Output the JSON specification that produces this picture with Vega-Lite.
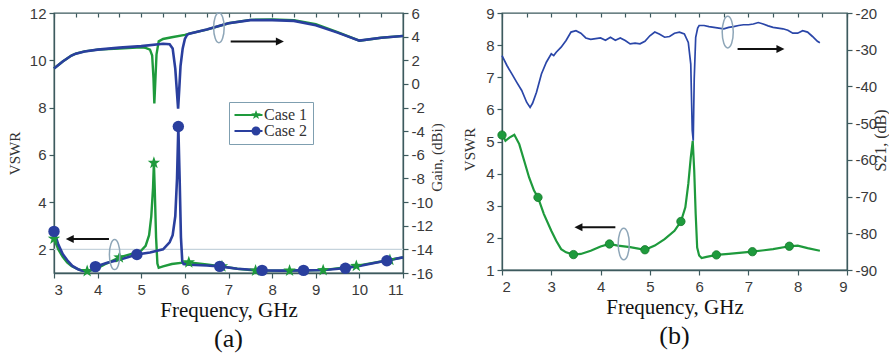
{
  "$schema": "https://vega.github.io/schema/vega-lite/v6.json",
  "padding": {"left": 6, "top": 5, "right": 0, "bottom": 0},
  "background": "white",
  "datasets": {
    "aGain": [
      {"case": "Case 1", "f": 3.0, "g": 1.3}, {"case": "Case 1", "f": 3.2, "g": 1.9}, {"case": "Case 1", "f": 3.4, "g": 2.4}, {"case": "Case 1", "f": 3.5, "g": 2.56}, {"case": "Case 1", "f": 3.7, "g": 2.75}, {"case": "Case 1", "f": 4.0, "g": 2.9}, {"case": "Case 1", "f": 4.5, "g": 3.0}, {"case": "Case 1", "f": 5.0, "g": 3.1}, {"case": "Case 1", "f": 5.1, "g": 3.05}, {"case": "Case 1", "f": 5.2, "g": 2.9}, {"case": "Case 1", "f": 5.25, "g": 2.4}, {"case": "Case 1", "f": 5.28, "g": 0.5}, {"case": "Case 1", "f": 5.3, "g": -1.65}, {"case": "Case 1", "f": 5.32, "g": 0.0}, {"case": "Case 1", "f": 5.35, "g": 2.5}, {"case": "Case 1", "f": 5.4, "g": 3.6}, {"case": "Case 1", "f": 5.5, "g": 3.8}, {"case": "Case 1", "f": 5.7, "g": 3.95}, {"case": "Case 1", "f": 6.0, "g": 4.15}, {"case": "Case 1", "f": 6.1, "g": 4.25}, {"case": "Case 1", "f": 6.5, "g": 4.6}, {"case": "Case 1", "f": 7.0, "g": 5.13}, {"case": "Case 1", "f": 7.5, "g": 5.42}, {"case": "Case 1", "f": 8.0, "g": 5.45}, {"case": "Case 1", "f": 8.5, "g": 5.4}, {"case": "Case 1", "f": 9.0, "g": 5.05}, {"case": "Case 1", "f": 9.5, "g": 4.38}, {"case": "Case 1", "f": 10.0, "g": 3.66}, {"case": "Case 1", "f": 10.5, "g": 3.9}, {"case": "Case 1", "f": 11.0, "g": 4.06},
      {"case": "Case 2", "f": 3.0, "g": 1.3}, {"case": "Case 2", "f": 3.2, "g": 1.9}, {"case": "Case 2", "f": 3.4, "g": 2.4}, {"case": "Case 2", "f": 3.5, "g": 2.56}, {"case": "Case 2", "f": 3.7, "g": 2.75}, {"case": "Case 2", "f": 4.0, "g": 2.9}, {"case": "Case 2", "f": 4.5, "g": 3.07}, {"case": "Case 2", "f": 5.0, "g": 3.2}, {"case": "Case 2", "f": 5.5, "g": 3.4}, {"case": "Case 2", "f": 5.65, "g": 3.35}, {"case": "Case 2", "f": 5.72, "g": 3.0}, {"case": "Case 2", "f": 5.78, "g": 1.3}, {"case": "Case 2", "f": 5.82, "g": -0.8}, {"case": "Case 2", "f": 5.845, "g": -2.1}, {"case": "Case 2", "f": 5.87, "g": -0.5}, {"case": "Case 2", "f": 5.9, "g": 1.5}, {"case": "Case 2", "f": 5.95, "g": 3.0}, {"case": "Case 2", "f": 6.0, "g": 3.8}, {"case": "Case 2", "f": 6.05, "g": 4.15}, {"case": "Case 2", "f": 6.1, "g": 4.25}, {"case": "Case 2", "f": 6.5, "g": 4.6}, {"case": "Case 2", "f": 7.0, "g": 5.13}, {"case": "Case 2", "f": 7.5, "g": 5.4}, {"case": "Case 2", "f": 8.0, "g": 5.4}, {"case": "Case 2", "f": 8.5, "g": 5.33}, {"case": "Case 2", "f": 9.0, "g": 4.96}, {"case": "Case 2", "f": 9.5, "g": 4.34}, {"case": "Case 2", "f": 10.0, "g": 3.66}, {"case": "Case 2", "f": 10.5, "g": 3.9}, {"case": "Case 2", "f": 11.0, "g": 4.06}
    ],
    "aVswr": [
      {"case": "Case 1", "f": 3.0, "v": 2.45}, {"case": "Case 1", "f": 3.1, "v": 2.0}, {"case": "Case 1", "f": 3.2, "v": 1.68}, {"case": "Case 1", "f": 3.3, "v": 1.45}, {"case": "Case 1", "f": 3.4, "v": 1.3}, {"case": "Case 1", "f": 3.5, "v": 1.2}, {"case": "Case 1", "f": 3.6, "v": 1.12}, {"case": "Case 1", "f": 3.76, "v": 1.08}, {"case": "Case 1", "f": 3.9, "v": 1.12}, {"case": "Case 1", "f": 4.0, "v": 1.2}, {"case": "Case 1", "f": 4.2, "v": 1.4}, {"case": "Case 1", "f": 4.5, "v": 1.66}, {"case": "Case 1", "f": 4.8, "v": 1.82}, {"case": "Case 1", "f": 5.0, "v": 1.95}, {"case": "Case 1", "f": 5.1, "v": 2.15}, {"case": "Case 1", "f": 5.18, "v": 2.6}, {"case": "Case 1", "f": 5.23, "v": 3.4}, {"case": "Case 1", "f": 5.27, "v": 4.6}, {"case": "Case 1", "f": 5.29, "v": 5.66}, {"case": "Case 1", "f": 5.31, "v": 4.5}, {"case": "Case 1", "f": 5.34, "v": 2.5}, {"case": "Case 1", "f": 5.37, "v": 1.4}, {"case": "Case 1", "f": 5.4, "v": 1.22}, {"case": "Case 1", "f": 5.5, "v": 1.28}, {"case": "Case 1", "f": 5.7, "v": 1.38}, {"case": "Case 1", "f": 6.0, "v": 1.45}, {"case": "Case 1", "f": 6.1, "v": 1.45}, {"case": "Case 1", "f": 6.5, "v": 1.36}, {"case": "Case 1", "f": 6.85, "v": 1.28}, {"case": "Case 1", "f": 7.2, "v": 1.18}, {"case": "Case 1", "f": 7.62, "v": 1.1}, {"case": "Case 1", "f": 8.4, "v": 1.1}, {"case": "Case 1", "f": 9.17, "v": 1.12}, {"case": "Case 1", "f": 9.93, "v": 1.3}, {"case": "Case 1", "f": 10.6, "v": 1.52}, {"case": "Case 1", "f": 11.0, "v": 1.66},
      {"case": "Case 2", "f": 3.0, "v": 2.76}, {"case": "Case 2", "f": 3.1, "v": 2.2}, {"case": "Case 2", "f": 3.2, "v": 1.8}, {"case": "Case 2", "f": 3.3, "v": 1.55}, {"case": "Case 2", "f": 3.42, "v": 1.3}, {"case": "Case 2", "f": 3.55, "v": 1.16}, {"case": "Case 2", "f": 3.65, "v": 1.1}, {"case": "Case 2", "f": 3.78, "v": 1.08}, {"case": "Case 2", "f": 3.9, "v": 1.18}, {"case": "Case 2", "f": 4.0, "v": 1.3}, {"case": "Case 2", "f": 4.2, "v": 1.42}, {"case": "Case 2", "f": 4.5, "v": 1.56}, {"case": "Case 2", "f": 4.9, "v": 1.78}, {"case": "Case 2", "f": 5.2, "v": 1.87}, {"case": "Case 2", "f": 5.5, "v": 2.0}, {"case": "Case 2", "f": 5.65, "v": 2.3}, {"case": "Case 2", "f": 5.72, "v": 2.6}, {"case": "Case 2", "f": 5.78, "v": 3.4}, {"case": "Case 2", "f": 5.82, "v": 5.0}, {"case": "Case 2", "f": 5.85, "v": 7.2}, {"case": "Case 2", "f": 5.88, "v": 5.0}, {"case": "Case 2", "f": 5.91, "v": 2.5}, {"case": "Case 2", "f": 5.94, "v": 1.5}, {"case": "Case 2", "f": 5.97, "v": 1.38}, {"case": "Case 2", "f": 6.1, "v": 1.35}, {"case": "Case 2", "f": 6.5, "v": 1.32}, {"case": "Case 2", "f": 6.8, "v": 1.28}, {"case": "Case 2", "f": 7.2, "v": 1.18}, {"case": "Case 2", "f": 7.8, "v": 1.11}, {"case": "Case 2", "f": 8.2, "v": 1.1}, {"case": "Case 2", "f": 8.7, "v": 1.11}, {"case": "Case 2", "f": 9.2, "v": 1.13}, {"case": "Case 2", "f": 9.65, "v": 1.2}, {"case": "Case 2", "f": 10.0, "v": 1.3}, {"case": "Case 2", "f": 10.6, "v": 1.52}, {"case": "Case 2", "f": 11.0, "v": 1.66}
    ],
    "aMarks": [
      {"case": "Case 1", "f": 3.0, "v": 2.45}, {"case": "Case 1", "f": 3.76, "v": 1.08}, {"case": "Case 1", "f": 4.5, "v": 1.66}, {"case": "Case 1", "f": 5.29, "v": 5.66}, {"case": "Case 1", "f": 6.09, "v": 1.45}, {"case": "Case 1", "f": 6.85, "v": 1.28}, {"case": "Case 1", "f": 7.62, "v": 1.1}, {"case": "Case 1", "f": 8.4, "v": 1.1}, {"case": "Case 1", "f": 9.17, "v": 1.12}, {"case": "Case 1", "f": 9.93, "v": 1.3}, {"case": "Case 1", "f": 10.7, "v": 1.55},
      {"case": "Case 2", "f": 3.0, "v": 2.76}, {"case": "Case 2", "f": 3.95, "v": 1.27}, {"case": "Case 2", "f": 4.9, "v": 1.78}, {"case": "Case 2", "f": 5.85, "v": 7.2}, {"case": "Case 2", "f": 6.8, "v": 1.28}, {"case": "Case 2", "f": 7.77, "v": 1.11}, {"case": "Case 2", "f": 8.72, "v": 1.11}, {"case": "Case 2", "f": 9.68, "v": 1.2}, {"case": "Case 2", "f": 10.63, "v": 1.52}
    ],
    "bS21": [
      {"f": 2.0, "s": -31.6}, {"f": 2.1, "s": -34.3}, {"f": 2.2, "s": -36.6}, {"f": 2.3, "s": -38.9}, {"f": 2.4, "s": -41.1}, {"f": 2.5, "s": -44.3}, {"f": 2.57, "s": -45.7}, {"f": 2.62, "s": -44.6}, {"f": 2.7, "s": -41.6}, {"f": 2.8, "s": -36.6}, {"f": 2.9, "s": -33.4}, {"f": 3.0, "s": -31.1}, {"f": 3.05, "s": -31.6}, {"f": 3.1, "s": -30.7}, {"f": 3.2, "s": -29.3}, {"f": 3.3, "s": -27.5}, {"f": 3.4, "s": -25.2}, {"f": 3.5, "s": -24.8}, {"f": 3.6, "s": -25.5}, {"f": 3.7, "s": -26.8}, {"f": 3.8, "s": -27.2}, {"f": 3.9, "s": -27.0}, {"f": 4.0, "s": -26.8}, {"f": 4.1, "s": -27.4}, {"f": 4.2, "s": -26.6}, {"f": 4.3, "s": -27.4}, {"f": 4.4, "s": -26.8}, {"f": 4.5, "s": -27.5}, {"f": 4.6, "s": -28.4}, {"f": 4.7, "s": -28.2}, {"f": 4.8, "s": -28.4}, {"f": 4.9, "s": -27.7}, {"f": 5.0, "s": -26.2}, {"f": 5.1, "s": -25.2}, {"f": 5.2, "s": -25.8}, {"f": 5.3, "s": -26.6}, {"f": 5.4, "s": -26.4}, {"f": 5.5, "s": -25.5}, {"f": 5.6, "s": -25.2}, {"f": 5.7, "s": -25.7}, {"f": 5.78, "s": -28.0}, {"f": 5.83, "s": -33.9}, {"f": 5.86, "s": -52.0}, {"f": 5.88, "s": -54.8}, {"f": 5.9, "s": -38.0}, {"f": 5.93, "s": -26.6}, {"f": 5.97, "s": -24.1}, {"f": 6.0, "s": -23.4}, {"f": 6.1, "s": -23.4}, {"f": 6.2, "s": -23.7}, {"f": 6.3, "s": -23.9}, {"f": 6.4, "s": -24.1}, {"f": 6.5, "s": -24.3}, {"f": 6.6, "s": -23.9}, {"f": 6.7, "s": -23.7}, {"f": 6.8, "s": -23.4}, {"f": 6.9, "s": -23.2}, {"f": 7.0, "s": -23.2}, {"f": 7.1, "s": -23.0}, {"f": 7.2, "s": -22.6}, {"f": 7.3, "s": -23.0}, {"f": 7.4, "s": -23.5}, {"f": 7.5, "s": -23.9}, {"f": 7.6, "s": -24.1}, {"f": 7.7, "s": -24.3}, {"f": 7.8, "s": -24.7}, {"f": 7.9, "s": -25.5}, {"f": 8.0, "s": -25.5}, {"f": 8.1, "s": -24.8}, {"f": 8.2, "s": -25.2}, {"f": 8.3, "s": -26.4}, {"f": 8.4, "s": -27.7}, {"f": 8.45, "s": -28.1}
    ],
    "bVswr": [
      {"f": 2.0, "v": 5.23}, {"f": 2.07, "v": 5.02}, {"f": 2.15, "v": 5.12}, {"f": 2.25, "v": 5.21}, {"f": 2.35, "v": 4.92}, {"f": 2.45, "v": 4.4}, {"f": 2.55, "v": 3.88}, {"f": 2.65, "v": 3.47}, {"f": 2.73, "v": 3.26}, {"f": 2.85, "v": 2.74}, {"f": 3.0, "v": 2.22}, {"f": 3.1, "v": 1.91}, {"f": 3.2, "v": 1.65}, {"f": 3.3, "v": 1.55}, {"f": 3.45, "v": 1.48}, {"f": 3.6, "v": 1.5}, {"f": 3.8, "v": 1.6}, {"f": 4.0, "v": 1.73}, {"f": 4.18, "v": 1.81}, {"f": 4.35, "v": 1.76}, {"f": 4.6, "v": 1.71}, {"f": 4.9, "v": 1.63}, {"f": 5.1, "v": 1.76}, {"f": 5.3, "v": 1.96}, {"f": 5.5, "v": 2.22}, {"f": 5.63, "v": 2.51}, {"f": 5.72, "v": 2.95}, {"f": 5.78, "v": 3.68}, {"f": 5.83, "v": 4.5}, {"f": 5.87, "v": 5.02}, {"f": 5.9, "v": 4.1}, {"f": 5.93, "v": 2.74}, {"f": 5.96, "v": 1.7}, {"f": 6.0, "v": 1.45}, {"f": 6.05, "v": 1.37}, {"f": 6.15, "v": 1.41}, {"f": 6.35, "v": 1.47}, {"f": 6.6, "v": 1.5}, {"f": 7.08, "v": 1.57}, {"f": 7.5, "v": 1.65}, {"f": 7.83, "v": 1.74}, {"f": 8.0, "v": 1.76}, {"f": 8.2, "v": 1.68}, {"f": 8.45, "v": 1.6}
    ],
    "bMarks": [
      {"f": 2.0, "v": 5.2}, {"f": 2.73, "v": 3.26}, {"f": 3.45, "v": 1.48}, {"f": 4.18, "v": 1.81}, {"f": 4.9, "v": 1.63}, {"f": 5.63, "v": 2.51}, {"f": 6.35, "v": 1.47}, {"f": 7.08, "v": 1.57}, {"f": 7.83, "v": 1.74}
    ]
  },
  "hconcat": [
    {
      "width": 349,
      "height": 260,
      "title": {"text": "(a)", "orient": "bottom", "anchor": "middle", "frame": "group", "font": "Liberation Serif", "fontSize": 26, "fontWeight": "normal", "color": "#111", "offset": 6},
      "layer": [
        {
          "encoding": {
            "x": {"field": "f", "type": "quantitative", "scale": {"domain": [3, 11], "nice": false},
                  "axis": {"values": [3, 4, 5, 6, 7, 8, 9, 10, 11], "title": "Frequency, GHz", "titleFontSize": 21, "titleColor": "#111", "titlePadding": 2, "labelPadding": 4}},
            "y": {"field": "v", "type": "quantitative", "scale": {"domain": [1, 12], "nice": false},
                  "axis": {"orient": "left", "values": [2, 4, 6, 8, 10, 12], "title": "VSWR", "titleFontSize": 15, "titleAngle": 270, "titleX": -40, "titleY": 140, "titleAlign": "center", "titleBaseline": "middle"}}
          },
          "layer": [
            {
              "data": {"values": [{"f": 3, "v": 2}, {"f": 11, "v": 2}]},
              "mark": {"type": "line", "color": "#c5d3dc", "strokeWidth": 1.2},
              "encoding": {}
            },
            {
              "data": {"name": "aVswr"},
              "transform": [{"filter": "datum.case === 'Case 1'"}],
              "mark": {"type": "line", "color": "#1e9a3c", "strokeWidth": 2.4},
              "encoding": {}
            },
            {
              "data": {"name": "aVswr"},
              "transform": [{"filter": "datum.case === 'Case 2'"}],
              "mark": {"type": "line", "color": "#2a3f9e", "strokeWidth": 2.6},
              "encoding": {}
            },
            {
              "data": {"name": "aMarks"},
              "transform": [{"filter": "datum.case === 'Case 1'"}],
              "mark": {"type": "point", "filled": true, "opacity": 1, "size": 170, "color": "#1e9a3c", "shape": "M0,-1L0.235,-0.324L0.951,-0.309L0.38,0.124L0.588,0.809L0,0.4L-0.588,0.809L-0.38,0.124L-0.951,-0.309L-0.235,-0.324Z"},
              "encoding": {}
            },
            {
              "data": {"name": "aMarks"},
              "transform": [{"filter": "datum.case === 'Case 2'"}],
              "mark": {"type": "point", "filled": true, "opacity": 1, "size": 130, "color": "#2a3f9e", "shape": "circle"},
              "encoding": {}
            },
            {
              "data": {"name": "aMarks"},
              "mark": {"type": "point", "filled": true, "opacity": 1, "size": 0},
              "encoding": {
                "color": {"field": "case", "type": "nominal", "scale": {"domain": ["Case 1", "Case 2"], "range": ["#1e9a3c", "#2a3f9e"]},
                          "legend": {"title": null, "orient": "none", "legendX": 175, "legendY": 89, "labelFont": "Liberation Serif", "labelFontSize": 16, "labelColor": "#333", "labelOffset": 14, "strokeColor": "#7f9fb0", "fillColor": "white", "padding": 5, "rowPadding": 0, "symbolSize": 225, "symbolOpacity": 1, "symbolStrokeWidth": 0}},
                "shape": {"field": "case", "type": "nominal", "scale": {"domain": ["Case 1", "Case 2"], "range": ["M-1,-0.13L2.73,-0.13L2.73,0.13L-1,0.13ZM1.87,-0.67L2.029,-0.218L2.507,-0.207L2.127,0.083L2.264,0.542L1.87,0.27L1.476,0.542L1.613,0.083L1.233,-0.207L1.711,-0.218Z", "M-1,-0.13L2.73,-0.13L2.73,0.13L-1,0.13ZM2.47,0A0.6,0.6 0 1,1 1.27,0A0.6,0.6 0 1,1 2.47,0Z"]}}
              }
            },
            {
              "data": {"values": [{"f": 4.39, "v": 1.78}]},
              "mark": {"type": "point", "filled": false, "shape": "M0,-1A0.35,1 0 1,1 0,1A0.35,1 0 1,1 0,-1Z", "size": 900, "stroke": "#8ea6b8", "strokeWidth": 1.5, "opacity": 1},
              "encoding": {}
            },
            {
              "data": {"values": [{"f": 4.26, "f2": 3.4, "v": 2.44}]},
              "mark": {"type": "rule", "color": "#111", "strokeWidth": 2},
              "encoding": {"x2": {"field": "f2"}}
            },
            {
              "data": {"values": [{"f": 3.27, "v": 2.44}]},
              "mark": {"type": "point", "filled": true, "shape": "M0,0L1,-0.5L1,0.5Z", "size": 256, "color": "#111", "opacity": 1},
              "encoding": {}
            }
          ]
        },
        {
          "encoding": {
            "x": {"field": "f", "type": "quantitative", "scale": {"domain": [3, 11], "nice": false},
                  "axis": {"orient": "top", "values": [3, 3.5, 4, 4.5, 5, 5.5, 6, 6.5, 7, 7.5, 8, 8.5, 9, 9.5, 10, 10.5, 11], "labels": false, "domain": false, "tickSize": -4, "title": null}},
            "y": {"field": "g", "type": "quantitative", "scale": {"domain": [-16, 6], "nice": false},
                  "axis": {"orient": "right", "values": [-16, -14, -12, -10, -8, -6, -4, -2, 0, 2, 4, 6], "labelExpr": "'' + datum.value", "title": "Gain, (dBi)", "titleFontSize": 15, "titleAngle": 270, "titleX": 33, "titleY": 144, "titleAlign": "center", "titleBaseline": "middle"}}
          },
          "layer": [
            {
              "data": {"name": "aGain"},
              "transform": [{"filter": "datum.case === 'Case 1'"}],
              "mark": {"type": "line", "color": "#1e9a3c", "strokeWidth": 2.4},
              "encoding": {}
            },
            {
              "data": {"name": "aGain"},
              "transform": [{"filter": "datum.case === 'Case 2'"}],
              "mark": {"type": "line", "color": "#2a3f9e", "strokeWidth": 2.6},
              "encoding": {}
            },
            {
              "data": {"values": [{"f": 6.78, "g": 4.76}]},
              "mark": {"type": "point", "filled": false, "shape": "M0,-1A0.35,1 0 1,1 0,1A0.35,1 0 1,1 0,-1Z", "size": 900, "stroke": "#8ea6b8", "strokeWidth": 1.5, "opacity": 1},
              "encoding": {}
            },
            {
              "data": {"values": [{"f": 7.05, "f2": 8.12, "g": 3.58}]},
              "mark": {"type": "rule", "color": "#111", "strokeWidth": 2},
              "encoding": {"x2": {"field": "f2"}}
            },
            {
              "data": {"values": [{"f": 8.27, "g": 3.58}]},
              "mark": {"type": "point", "filled": true, "shape": "M0,0L-1,-0.5L-1,0.5Z", "size": 256, "color": "#111", "opacity": 1},
              "encoding": {}
            }
          ]
        }
      ],
      "resolve": {"scale": {"y": "independent"}, "axis": {"x": "independent"}}
    },
    {
      "width": 345,
      "height": 257,
      "title": {"text": "(b)", "orient": "bottom", "anchor": "middle", "frame": "group", "font": "Liberation Serif", "fontSize": 26, "fontWeight": "normal", "color": "#111", "offset": 6},
      "layer": [
        {
          "encoding": {
            "x": {"field": "f", "type": "quantitative", "scale": {"domain": [2, 9], "nice": false},
                  "axis": {"values": [2, 3, 4, 5, 6, 7, 8, 9], "title": "Frequency, GHz", "titleFontSize": 21, "titleColor": "#111", "titlePadding": 2, "labelPadding": 4}},
            "y": {"field": "v", "type": "quantitative", "scale": {"domain": [1, 9], "nice": false},
                  "axis": {"orient": "left", "values": [1, 2, 3, 4, 5, 6, 7, 8, 9], "title": "VSWR", "titleFontSize": 15, "titleAngle": 270, "titleX": -33, "titleY": 136, "titleAlign": "center", "titleBaseline": "middle"}}
          },
          "layer": [
            {
              "data": {"name": "bVswr"},
              "mark": {"type": "line", "color": "#1e9a3c", "strokeWidth": 2.2},
              "encoding": {}
            },
            {
              "data": {"name": "bMarks"},
              "mark": {"type": "point", "filled": true, "shape": "circle", "size": 70, "color": "#1e9a3c", "opacity": 1, "stroke": "#157a2c", "strokeWidth": 0.8},
              "encoding": {}
            },
            {
              "data": {"values": [{"f": 4.47, "v": 1.81}]},
              "mark": {"type": "point", "filled": false, "shape": "M0,-1A0.35,1 0 1,1 0,1A0.35,1 0 1,1 0,-1Z", "size": 1000, "stroke": "#8ea6b8", "strokeWidth": 1.5, "opacity": 1},
              "encoding": {}
            },
            {
              "data": {"values": [{"f": 4.3, "f2": 3.58, "v": 2.33}]},
              "mark": {"type": "rule", "color": "#111", "strokeWidth": 2},
              "encoding": {"x2": {"field": "f2"}}
            },
            {
              "data": {"values": [{"f": 3.47, "v": 2.33}]},
              "mark": {"type": "point", "filled": true, "shape": "M0,0L1,-0.5L1,0.5Z", "size": 256, "color": "#111", "opacity": 1},
              "encoding": {}
            }
          ]
        },
        {
          "encoding": {
            "x": {"field": "f", "type": "quantitative", "scale": {"domain": [2, 9], "nice": false},
                  "axis": {"orient": "top", "values": [2, 2.5, 3, 3.5, 4, 4.5, 5, 5.5, 6, 6.5, 7, 7.5, 8, 8.5, 9], "labels": false, "domain": false, "tickSize": -4, "title": null}},
            "y": {"field": "s", "type": "quantitative", "scale": {"domain": [-90, -20], "nice": false},
                  "axis": {"orient": "right", "values": [-90, -80, -70, -60, -50, -40, -30, -20], "labelExpr": "'' + datum.value", "title": "S21, (dB)", "titleFontSize": 16, "titleAngle": 270, "titleX": 33, "titleY": 127, "titleAlign": "center", "titleBaseline": "middle"}}
          },
          "layer": [
            {
              "data": {"name": "bS21"},
              "mark": {"type": "line", "color": "#2a46a8", "strokeWidth": 1.7},
              "encoding": {}
            },
            {
              "data": {"values": [{"f": 6.58, "s": -25.2}]},
              "mark": {"type": "point", "filled": false, "shape": "M0,-1A0.35,1 0 1,1 0,1A0.35,1 0 1,1 0,-1Z", "size": 1000, "stroke": "#8ea6b8", "strokeWidth": 1.5, "opacity": 1},
              "encoding": {}
            },
            {
              "data": {"values": [{"f": 6.78, "f2": 7.62, "s": -29.8}]},
              "mark": {"type": "rule", "color": "#111", "strokeWidth": 2},
              "encoding": {"x2": {"field": "f2"}}
            },
            {
              "data": {"values": [{"f": 7.73, "s": -29.8}]},
              "mark": {"type": "point", "filled": true, "shape": "M0,0L-1,-0.5L-1,0.5Z", "size": 256, "color": "#111", "opacity": 1},
              "encoding": {}
            }
          ]
        }
      ],
      "resolve": {"scale": {"y": "independent"}, "axis": {"x": "independent"}}
    }
  ],
  "spacing": 16,
  "resolve": {"scale": {"color": "independent", "shape": "independent"}, "legend": {"color": "independent", "shape": "independent"}},
  "config": {
    "view": {"stroke": "#3d5a5e", "strokeWidth": 1.3},
    "axis": {"domainColor": "#3d5a5e", "domainWidth": 1.3, "tickColor": "#3d5a5e", "tickWidth": 1.2, "tickSize": 5, "labelFont": "Liberation Sans", "labelFontSize": 15, "labelColor": "#3a3a3a", "labelPadding": 3, "titleFont": "Liberation Serif", "titleFontWeight": "normal", "titleColor": "#333", "grid": false},
    "title": {"fontWeight": "normal"}
  }
}
